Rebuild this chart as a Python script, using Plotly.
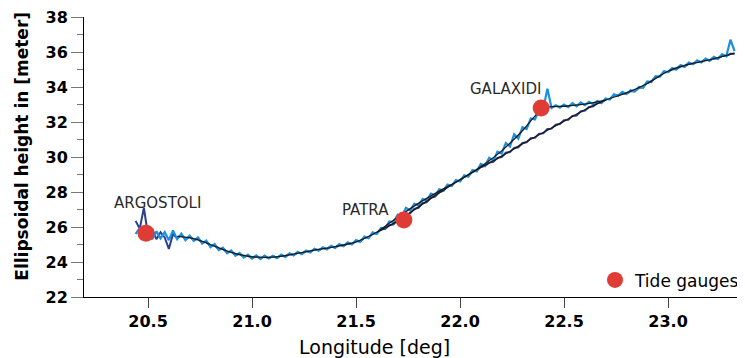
import plotly.graph_objects as go

# longitude grid of the two profiles
lon = [20.44, 20.46, 20.48, 20.50, 20.52, 20.54, 20.56, 20.58, 20.60, 20.62,
       20.64, 20.66, 20.68, 20.70, 20.72, 20.74, 20.76, 20.78, 20.80, 20.82,
       20.84, 20.86, 20.88, 20.90, 20.92, 20.94, 20.96, 20.98, 21.00, 21.02,
       21.04, 21.06, 21.08, 21.10, 21.12, 21.14, 21.16, 21.18, 21.20, 21.22,
       21.24, 21.26, 21.28, 21.30, 21.32, 21.34, 21.36, 21.38, 21.40, 21.42,
       21.44, 21.46, 21.48, 21.50, 21.52, 21.54, 21.56, 21.58, 21.60, 21.62,
       21.64, 21.66, 21.68, 21.70, 21.72, 21.74, 21.76, 21.78, 21.80, 21.82,
       21.84, 21.86, 21.88, 21.90, 21.92, 21.94, 21.96, 21.98, 22.00, 22.02,
       22.04, 22.06, 22.08, 22.10, 22.12, 22.14, 22.16, 22.18, 22.20, 22.22,
       22.24, 22.26, 22.28, 22.30, 22.32, 22.34, 22.36, 22.38, 22.40, 22.42,
       22.44, 22.46, 22.48, 22.50, 22.52, 22.54, 22.56, 22.58, 22.60, 22.62,
       22.64, 22.66, 22.68, 22.70, 22.72, 22.74, 22.76, 22.78, 22.80, 22.82,
       22.84, 22.86, 22.88, 22.90, 22.92, 22.94, 22.96, 22.98, 23.00, 23.02,
       23.04, 23.06, 23.08, 23.10, 23.12, 23.14, 23.16, 23.18, 23.20, 23.22,
       23.24, 23.26, 23.28, 23.30, 23.32]

# light blue profile
h_light = [25.60, 25.95, 25.35, 25.90, 25.30, 25.75, 25.35, 25.70, 25.25, 25.80,
           25.30, 25.62, 25.25, 25.50, 25.20, 25.40, 25.05, 25.22, 24.85, 25.02,
           24.68, 24.82, 24.50, 24.66, 24.36, 24.52, 24.25, 24.42, 24.20, 24.38,
           24.17, 24.36, 24.20, 24.36, 24.22, 24.42, 24.28, 24.50, 24.38, 24.58,
           24.45, 24.66, 24.55, 24.76, 24.64, 24.84, 24.72, 24.92, 24.80, 25.02,
           24.90, 25.12, 25.00, 25.25, 25.15, 25.45, 25.36, 25.70, 25.60, 25.95,
           25.92, 26.32, 26.28, 26.70, 26.62, 27.10, 26.95, 27.32, 27.25, 27.60,
           27.52, 27.90, 27.80, 28.16, 28.08, 28.42, 28.34, 28.68, 28.60, 28.95,
           28.88, 29.25, 29.18, 29.60, 29.48, 29.95, 29.80, 30.30, 30.20, 30.80,
           30.60, 31.30, 31.05, 31.70, 31.60, 32.20, 32.15, 32.70, 32.75, 33.90,
           32.80, 32.95, 32.82, 33.00, 32.85, 33.08, 32.90, 33.12, 32.96, 33.15,
           33.02, 33.20, 33.08, 33.35, 33.28, 33.58, 33.50, 33.72, 33.60, 33.82,
           33.74, 34.00, 33.96, 34.32, 34.28, 34.62, 34.58, 34.90, 34.85, 35.08,
           35.00, 35.25, 35.15, 35.40, 35.30, 35.52, 35.40, 35.62, 35.50, 35.72,
           35.60, 35.88, 35.75, 36.70, 36.05]

# dark blue profile
h_dark = [26.35, 25.90, 27.10, 25.50, 25.90, 25.30, 25.70, 25.40, 24.75, 25.60,
          25.35, 25.55, 25.30, 25.45, 25.25, 25.33, 25.12, 25.15, 24.92, 24.95,
          24.72, 24.75, 24.55, 24.60, 24.40, 24.45, 24.30, 24.35, 24.22, 24.32,
          24.20, 24.32, 24.22, 24.33, 24.25, 24.38, 24.32, 24.46, 24.40, 24.54,
          24.48, 24.63, 24.58, 24.73, 24.67, 24.80, 24.75, 24.89, 24.83, 24.98,
          24.93, 25.08, 25.03, 25.20, 25.18, 25.38, 25.40, 25.62, 25.66, 25.86,
          25.90, 26.10, 26.15, 26.40, 26.46, 26.72, 26.78, 27.04, 27.10, 27.36,
          27.42, 27.68, 27.74, 28.00, 28.06, 28.32, 28.38, 28.60, 28.66, 28.88,
          28.94, 29.16, 29.22, 29.44, 29.48, 29.68, 29.72, 29.95, 30.00, 30.24,
          30.28, 30.52, 30.56, 30.80, 30.84, 31.08, 31.10, 31.33, 31.35, 31.60,
          31.62, 31.85, 31.88, 32.10, 32.12, 32.34, 32.37, 32.60, 32.65, 32.86,
          32.90, 33.08, 33.12, 33.30, 33.32, 33.53, 33.52, 33.66, 33.62, 33.76,
          33.76, 33.94, 34.00, 34.24, 34.32, 34.56, 34.62, 34.83, 34.86, 35.02,
          35.02, 35.18, 35.18, 35.34, 35.32, 35.46, 35.43, 35.55, 35.52, 35.65,
          35.63, 35.78, 35.77, 35.90, 35.90]

# smoothed curves (black)
lon_fit_low = [20.64, 20.72, 20.80, 20.90, 21.00, 21.10, 21.20, 21.30, 21.40, 21.50,
               21.60, 21.70, 21.80, 21.90, 22.00, 22.10, 22.20, 22.30, 22.40, 22.50,
               22.60, 22.70, 22.80, 22.90, 23.00, 23.10, 23.20, 23.32]
h_fit_low = [25.46, 25.34, 25.00, 24.55, 24.30, 24.28, 24.45, 24.68, 24.88, 25.15,
             25.70, 26.35, 27.15, 27.95, 28.70, 29.40, 30.05, 30.75, 31.40, 32.05,
             32.70, 33.25, 33.66, 34.20, 34.90, 35.30, 35.55, 35.93]
lon_fit_up = [21.60, 21.70, 21.80, 21.90, 22.00, 22.10, 22.20, 22.30, 22.40, 22.50,
              22.60, 22.70]
h_fit_up = [25.70, 26.56, 27.35, 28.05, 28.70, 29.45, 30.35, 31.50, 32.80, 32.90,
            33.02, 33.25]

# tide gauges
gauge_names = ["ARGOSTOLI", "PATRA", "GALAXIDI"]
gauge_lon = [20.49, 21.73, 22.39]
gauge_h = [25.65, 26.40, 32.80]
label_lon = [20.545, 21.545, 22.22]
label_h = [27.35, 27.0, 33.9]

FONT = "DejaVu Sans"

fig = go.Figure()

fig.add_trace(go.Scatter(x=lon, y=h_dark, mode="lines",
                         line=dict(color="#2c3f8f", width=2), showlegend=False))
fig.add_trace(go.Scatter(x=lon, y=h_light, mode="lines",
                         line=dict(color="#1d8fe0", width=2.2), showlegend=False))
fig.add_trace(go.Scatter(x=lon_fit_low, y=h_fit_low, mode="lines",
                         line=dict(color="#1a1a1a", width=1.3, shape="spline"),
                         showlegend=False))
fig.add_trace(go.Scatter(x=lon_fit_up, y=h_fit_up, mode="lines",
                         line=dict(color="#1a1a1a", width=1.3, shape="spline", smoothing=0.6),
                         showlegend=False))
fig.add_trace(go.Scatter(x=gauge_lon, y=gauge_h, mode="markers", name="Tide gauges",
                         marker=dict(color="#e03c36", size=17, symbol="circle"),
                         showlegend=True))

for name, x, y in zip(gauge_names, label_lon, label_h):
    fig.add_annotation(x=x, y=y, text=name, showarrow=False,
                       font=dict(family=FONT, size=15, color="#2a2a2a"))

# axis titles sit a little off-centre in the original, so place them by hand
fig.add_annotation(xref="paper", yref="paper", x=-0.094, y=0.54,
                   xanchor="center", yanchor="middle",
                   text="Ellipsoidal height in [meter]", textangle=-90,
                   showarrow=False, font=dict(size=17, weight="bold"))
fig.add_annotation(xref="paper", yref="paper", x=0.44, y=-0.179,
                   xanchor="center", yanchor="middle",
                   text="Longitude [deg]", showarrow=False, font=dict(size=19))

# the page puts the figure 8 px in from the top-left corner
fig.update_layout(
    width=737, height=350,
    margin=dict(l=76, r=0, t=9, b=61, autoexpand=False),
    paper_bgcolor="white",
    plot_bgcolor="white",
    font=dict(family=FONT, color="black"),
    legend=dict(x=1.0, xanchor="right", y=-0.005, yanchor="bottom",
                bgcolor="rgba(0,0,0,0)", font=dict(size=17),
                itemwidth=30),
    xaxis=dict(range=[20.192, 23.37], tickvals=[20.5, 21.0, 21.5, 22.0, 22.5, 23.0],
               ticktext=["20.5", "21.0", "21.5", "22.0", "22.5", "23.0"],
               showline=True, linecolor="black", linewidth=1, automargin=False,
               ticks="outside", ticklen=10, tickcolor="#444", showgrid=False,
               zeroline=False, ticklabeloverflow="allow",
               tickfont=dict(size=16, weight="bold")),
    yaxis=dict(range=[22, 38], dtick=2, showline=True, linecolor="black", linewidth=1,
               ticks="outside", ticklen=12, tickcolor="#777", showgrid=False,
               zeroline=False, automargin=False, ticklabeloverflow="allow",
               minor=dict(ticks="outside", ticklen=6, dtick=1, tickcolor="#777"),
               tickfont=dict(size=16, weight="bold")),
)

fig.write_html("out.html")
